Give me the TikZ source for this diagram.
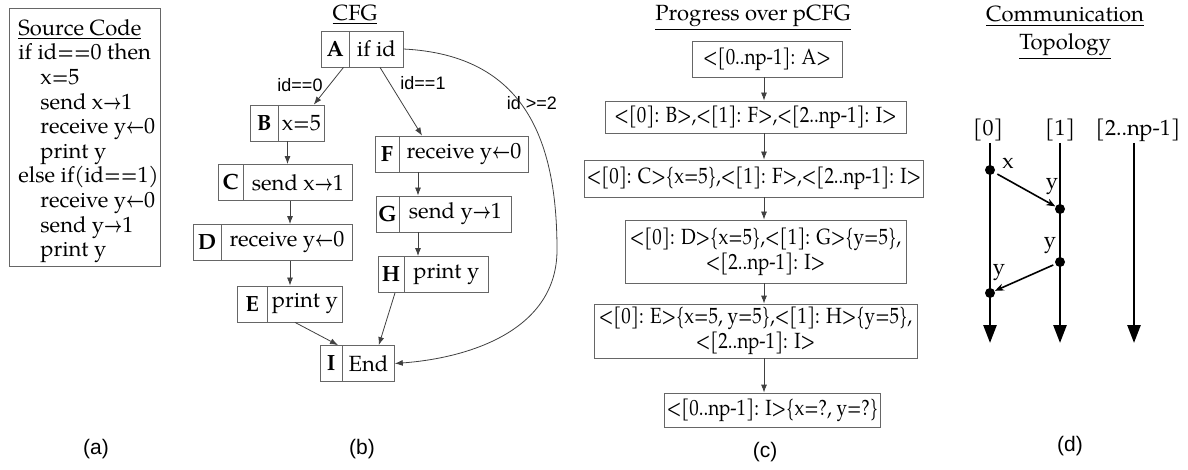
\documentclass[tikz,border=0pt]{standalone}
\usepackage{fontspec}
\setmainfont{TeX Gyre Pagella}
\newfontfamily\progfont[FakeStretch=0.86]{TeX Gyre Pagella}
\newfontfamily\labelfont{Liberation Sans}
\usetikzlibrary{arrows.meta, positioning, shapes.multipart}
\newcommand{\cell}[2]{\makebox[#1]{#2}}
\newcommand{\sendto}{\scalebox{0.72}[1]{\boldmath$\rightarrow$}}
\newcommand{\recvfrom}{\scalebox{0.72}[1]{\boldmath$\leftarrow$}}

\begin{document}
\begin{tikzpicture}[
  x=0.5pt, y=-0.5pt,
  font=\fontsize{11}{12.2}\selectfont,
  codebox/.style={rectangle, draw=black!60, minimum width=75.5pt, minimum height=129pt},
  cfgbox/.style={rectangle split, rectangle split horizontal, rectangle split parts=2,
                 draw=black!60, inner xsep=2pt, inner ysep=0pt, minimum height=18pt},
  pbox/.style={rectangle, draw=black!60, align=center, inner sep=1pt,
               font=\progfont\fontsize{11}{12.5}\selectfont},
  cond/.style={font=\labelfont\fontsize{9}{10}\selectfont},
  sub/.style={font=\labelfont\fontsize{10.5}{12}\selectfont},
  arr/.style={-{Latex[length=4pt,width=3pt]}, draw=black!75, line width=0.4pt},
  life/.style={line width=1.3pt, -{Triangle[length=9pt,width=6.5pt]}},
  msg/.style={line width=0.8pt, -{Stealth[length=4.5pt,width=3.5pt]}},
  evt/.style={circle, fill, inner sep=0pt, minimum size=5pt}
]
\useasboundingbox (0,0) rectangle (1188,470);

% (a) Source code
\node[codebox] (code) at (84.5,137) {};
\node[anchor=north west, align=left, inner sep=0pt,
      font=\fontsize{11}{12.3}\selectfont] (codetxt) at (18,19)
  {\underline{Source Code}\\
   if id==0 then\\
   \hspace*{11pt}x=5\\
   \hspace*{11pt}send x\sendto1\\
   \hspace*{11pt}receive y\recvfrom0\\
   \hspace*{11pt}print y\\
   else if(id==1)\\
   \hspace*{11pt}receive y\recvfrom0\\
   \hspace*{11pt}send y\sendto1\\
   \hspace*{11pt}print y};

% (b) CFG
\node (cfgtitle) at (355,15) {\underline{CFG}};
\node[cfgbox] (A) at (362,49)    {\nodepart{one}\cell{10pt}{\bfseries A}\nodepart{two}\cell{22.5pt}{if id}};
\node[cfgbox] (B) at (287.5,123) {\nodepart{one}\cell{9.5pt}{\bfseries B}\nodepart{two}\cell{19pt}{x=5}};
\node[cfgbox] (C) at (285.5,182.5) {\nodepart{one}\cell{8pt}{\bfseries C}\nodepart{two}\cell{50.5pt}{send x\sendto1}};
\node[cfgbox] (D) at (273,242.5) {\nodepart{one}\cell{9.5pt}{\bfseries D}\nodepart{two}\cell{61.5pt}{receive y\recvfrom0}};
\node[cfgbox] (E) at (290,304)   {\nodepart{one}\cell{10.5pt}{\bfseries E}\nodepart{two}\cell{33.5pt}{print y}};
\node[cfgbox] (F) at (452,154)   {\nodepart{one}\cell{7.5pt}{\bfseries F}\nodepart{two}\cell{60.5pt}{receive y\recvfrom0}};
\node[cfgbox] (G) at (444,214)   {\nodepart{one}\cell{7pt}{\bfseries G}\nodepart{two}\cell{52pt}{send y\sendto1}};
\node[cfgbox] (H) at (433.5,274.5) {\nodepart{one}\cell{8.5pt}{\bfseries H}\nodepart{two}\cell{38pt}{print y}};
\node[cfgbox] (I) at (357.5,363.5) {\nodepart{one}\cell{6.5pt}{\bfseries I}\nodepart{two}\cell{22pt}{End}};

\coordinate (fcol) at (418,0);

% Branches out of A
\draw[arr] ([xshift=-3pt]A.one split south) -- ([xshift=-5.5pt]B.north east);
\draw[arr] ([xshift=9pt]A.south) -- ([xshift=-15pt]F.north);
\draw[arr] (A.east) .. controls (525,55) and (557,140) .. (557,250)
                    .. controls (557,330) and (470,358) .. (I.east);
\node[cond] at (300,85) {id==0};
\node[cond] at (423,83) {id==1};
\node[cond] at (532,103) {id >=2};

% Straight runs
\draw[arr] (B.south) -- (B.south |- C.north);
\draw[arr] (C.south -| E) -- (D.north -| E);
\draw[arr] (D.south -| E) -- (E.north);
\draw[arr] (F.south -| fcol) -- (G.north -| fcol);
\draw[arr] (G.south -| fcol) -- (H.north -| fcol);

% Into End
\draw[arr] ([xshift=2.5pt]E.south) -- ([xshift=-2pt]I.one split north);
\draw[arr] ([xshift=-4.5pt]H.one split south) -- ([xshift=-8pt]I.north east);

% (c) Progress over pCFG
\node (ptitle) at (753,18) {\underline{Progress over pCFG}};
\node[pbox, minimum width=75pt, minimum height=18pt] (p1) at (767,59) {<[0..np-1]: A>};
\node[pbox, minimum width=150.5pt, minimum height=16pt] (p2) at (755.5,117) {<[0]: B>,<[1]: F>,<[2..np-1]: I>};
\node[pbox, minimum width=159pt, minimum height=18.5pt] (p3) at (754,178.5) {<[0]: C>\{x=5\},<[1]: F>,<[2..np-1]: I>};
\node[pbox, minimum width=140.5pt, minimum height=31.5pt] (p4) at (765.5,251.5) {<[0]: D>\{x=5\},<[1]: G>\{y=5\},\\<[2..np-1]: I>};
\node[pbox, minimum width=161.5pt, minimum height=27pt] (p5) at (755.5,331) {<[0]: E>\{x=5, y=5\},<[1]: H>\{y=5\},\\<[2..np-1]: I>};
\node[pbox, minimum width=99.5pt, minimum height=17pt] (p6) at (772.5,410) {<[0..np-1]: I>\{x=?, y=?\}};

\coordinate (pcol) at (764,0);
\foreach \a/\b in {p1/p2, p2/p3, p3/p4, p4/p5, p5/p6}
  \draw[arr] (\a.south -| pcol) -- (\b.north -| pcol);

% (d) Communication topology
\node[align=center] (ttitle) at (1065,33) {\underline{Communication}\\[1.5pt]\underline{Topology}};
\node (r0) at (988,130) {[0]};
\node (r1) at (1060,130) {[1]};
\node (r2) at (1138,130) {[2..np-1]};

\coordinate (t0) at (990,143);  \coordinate (b0) at (990,343);
\coordinate (t1) at (1060,143); \coordinate (b1) at (1060,343);
\coordinate (t2) at (1134,143); \coordinate (b2) at (1134,343);
\draw[life] (t0) -- (b0);
\draw[life] (t1) -- (b1);
\draw[life] (t2) -- (b2);

\node[evt] (sx) at (990,170) {};
\node[evt] (rx) at (1060,209) {};
\node[evt] (sy) at (1060,262) {};
\node[evt] (ry) at (990,293) {};
\draw[msg, shorten <=1.5pt] (sx) -- (rx);
\draw[msg, shorten <=1pt] (sy) -- (ry);
\node at (1008,163) {x};
\node at (1052,187) {y};
\node at (1050,246) {y};
\node at (999,273) {y};

% Panel captions
\node[sub] (la) at (96,449) {(a)};
\node[sub] (lb) at (362,449) {(b)};
\node[sub] (lc) at (765,452) {(c)};
\node[sub] (ld) at (1070,446) {(d)};
\end{tikzpicture}
\end{document}
